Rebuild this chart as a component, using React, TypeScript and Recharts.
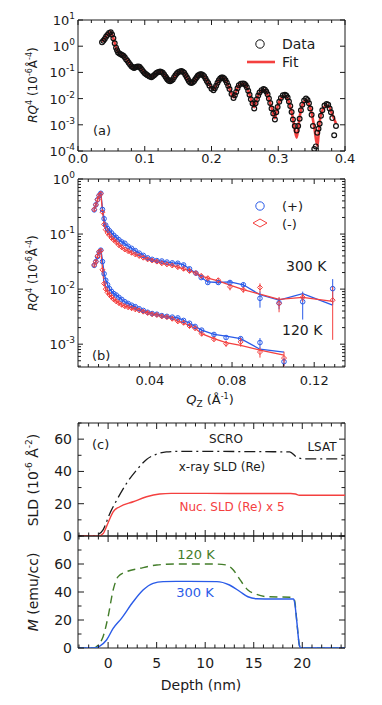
import React from "react";
import { ComposedChart, Line, Scatter, XAxis, YAxis, ErrorBar, ReferenceArea } from "recharts";

const W = 382;
const H = 705;
const FONT = "DejaVu Sans, Verdana, sans-serif";
const INK = "#1b1b1b";
const BLUE = "#2a5be8";
const RED = "#f4403f";
const GREEN = "#437d2a";

// (a) x-ray reflectivity: fit on one Q grid, data read at the same Q plus between them
const qA = [0.036, 0.040, 0.044, 0.049, 0.053, 0.057, 0.060, 0.064, 0.068, 0.072, 0.076, 0.080, 0.084, 0.088, 0.092, 0.096, 0.100, 0.104, 0.110, 0.114, 0.118, 0.123, 0.127, 0.131, 0.134, 0.138, 0.142, 0.146, 0.150, 0.155, 0.159, 0.163, 0.166, 0.170, 0.174, 0.178, 0.181, 0.185, 0.189, 0.193, 0.197, 0.203, 0.207, 0.211, 0.215, 0.219, 0.223, 0.227, 0.233, 0.237, 0.241, 0.247, 0.251, 0.255, 0.259, 0.264, 0.268, 0.272, 0.278, 0.282, 0.286, 0.290, 0.295, 0.299, 0.304, 0.310, 0.314, 0.318, 0.322, 0.3276, 0.332, 0.336, 0.3416, 0.346, 0.350, 0.354, 0.3585, 0.362, 0.366, 0.3725, 0.377, 0.381, 0.3865];
const fitA = [1.5, 2.0, 2.8, 3.5, 2.0, 0.89, 0.60, 0.50, 0.44, 0.33, 0.24, 0.174, 0.151, 0.166, 0.166, 0.126, 0.095, 0.079, 0.068, 0.079, 0.095, 0.107, 0.095, 0.071, 0.054, 0.048, 0.055, 0.076, 0.100, 0.110, 0.095, 0.066, 0.048, 0.041, 0.048, 0.066, 0.079, 0.083, 0.071, 0.048, 0.032, 0.023, 0.032, 0.050, 0.063, 0.058, 0.040, 0.024, 0.0112, 0.019, 0.032, 0.037, 0.032, 0.020, 0.010, 0.0047, 0.010, 0.0166, 0.022, 0.0178, 0.010, 0.0045, 0.00178, 0.0050, 0.010, 0.0126, 0.010, 0.0050, 0.00178, 0.00032, 0.0020, 0.0056, 0.0089, 0.0063, 0.0028, 0.00079, 0.00016, 0.00126, 0.0035, 0.0056, 0.0045, 0.0025, 0.00112];
const dataA = [1.4, 1.9, 2.7, 3.4, 2.0, 0.87, 0.58, 0.49, 0.43, 0.32, 0.235, 0.17, 0.148, 0.165, 0.164, 0.124, 0.093, 0.077, 0.066, 0.078, 0.096, 0.108, 0.096, 0.070, 0.053, 0.046, 0.054, 0.077, 0.101, 0.112, 0.096, 0.065, 0.047, 0.039, 0.047, 0.066, 0.080, 0.085, 0.072, 0.047, 0.031, 0.021, 0.031, 0.050, 0.064, 0.059, 0.040, 0.023, 0.0105, 0.018, 0.032, 0.038, 0.033, 0.020, 0.0095, 0.0042, 0.0095, 0.017, 0.023, 0.0185, 0.010, 0.0042, 0.0016, 0.0048, 0.0105, 0.014, 0.011, 0.0052, 0.0016, 0.0006, 0.0017, 0.0058, 0.010, 0.0066, 0.0024, 0.00012, 0.0005, 0.0011, 0.0036, 0.0062, 0.0042, 0.0018, 0.0009];
const qAmid = [0.038, 0.042, 0.0465, 0.051, 0.055, 0.0585, 0.062, 0.066, 0.070, 0.074, 0.078, 0.082, 0.086, 0.090, 0.094, 0.098, 0.102, 0.107, 0.112, 0.116, 0.1205, 0.125, 0.129, 0.1325, 0.136, 0.140, 0.144, 0.148, 0.1525, 0.157, 0.161, 0.1645, 0.168, 0.172, 0.176, 0.1795, 0.183, 0.187, 0.191, 0.195, 0.200, 0.205, 0.209, 0.213, 0.217, 0.221, 0.225, 0.230, 0.235, 0.239, 0.244, 0.249, 0.253, 0.257, 0.2615, 0.266, 0.270, 0.275, 0.280, 0.284, 0.288, 0.2925, 0.297, 0.3015, 0.307, 0.312, 0.316, 0.320, 0.3248, 0.3298, 0.334, 0.3388, 0.3438, 0.348, 0.352, 0.3563, 0.3603, 0.364, 0.3693, 0.3748, 0.379, 0.3838];
const dataAmid = [1.6, 2.3, 3.2, 2.8, 1.3, 0.70, 0.53, 0.46, 0.38, 0.28, 0.20, 0.156, 0.158, 0.168, 0.145, 0.107, 0.085, 0.069, 0.071, 0.087, 0.104, 0.104, 0.083, 0.061, 0.048, 0.049, 0.065, 0.090, 0.109, 0.106, 0.080, 0.056, 0.041, 0.042, 0.056, 0.074, 0.085, 0.080, 0.059, 0.039, 0.024, 0.025, 0.040, 0.059, 0.064, 0.050, 0.031, 0.015, 0.0135, 0.025, 0.037, 0.037, 0.027, 0.014, 0.0065, 0.0066, 0.013, 0.021, 0.022, 0.0145, 0.0068, 0.0027, 0.0030, 0.0075, 0.0135, 0.0130, 0.0078, 0.0031, 0.0009, 0.0009, 0.0036, 0.0085, 0.0088, 0.0042, 0.0009, 0.00015, 0.0007, 0.0022, 0.0054, 0.0058, 0.0030, 0.0004];

// (b) polarized neutron reflectivity, 300 K
const qHot = [0.0129, 0.0137, 0.0145, 0.0153, 0.0161, 0.0169, 0.0177, 0.0185, 0.0194, 0.0203, 0.0213, 0.0224, 0.0236, 0.0249, 0.0263, 0.0278, 0.0294, 0.0311, 0.0329, 0.0348, 0.0368, 0.0389, 0.0411, 0.0434, 0.0458, 0.0483, 0.0509, 0.0536, 0.0564, 0.0593, 0.0624, 0.0650, 0.0682, 0.0733, 0.0790, 0.0855, 0.0936, 0.1029, 0.1144, 0.1290];
const plusHot = [0.275, 0.34, 0.42, 0.50, 0.55, 0.28, 0.19, 0.145, 0.126, 0.115, 0.105, 0.095, 0.087, 0.079, 0.072, 0.068, 0.060, 0.055, 0.050, 0.045, 0.041, 0.037, 0.0347, 0.033, 0.0324, 0.031, 0.030, 0.0295, 0.0275, 0.0234, 0.0195, 0.0162, 0.0132, 0.0132, 0.0132, 0.0120, 0.0068, 0.0056, 0.0059, 0.0102];
const plusHotErr = [0.02, 0.025, 0.03, 0.035, 0.04, 0.02, 0.012, 0.009, 0.008, 0.007, 0.006, 0.0055, 0.005, 0.0045, 0.004, 0.004, 0.0035, 0.0032, 0.003, 0.0027, 0.0025, 0.0022, 0.0021, 0.002, 0.002, 0.0019, 0.0019, 0.0019, 0.0018, 0.0016, 0.0014, 0.0012, 0.001, 0.001, 0.0011, 0.0012, 0.0022, 0.0013, 0.0031, 0.005];
const plusHotFit = [0.275, 0.34, 0.42, 0.50, 0.56, 0.30, 0.19, 0.148, 0.127, 0.115, 0.105, 0.095, 0.087, 0.079, 0.073, 0.067, 0.060, 0.055, 0.050, 0.045, 0.041, 0.037, 0.0347, 0.033, 0.0324, 0.031, 0.030, 0.0295, 0.0275, 0.0234, 0.0195, 0.0162, 0.0135, 0.0132, 0.0135, 0.0120, 0.0079, 0.0063, 0.0083, 0.0051];
const minusHot = [0.28, 0.34, 0.42, 0.50, 0.54, 0.25, 0.15, 0.12, 0.105, 0.095, 0.085, 0.078, 0.071, 0.063, 0.0575, 0.0525, 0.049, 0.0457, 0.0427, 0.040, 0.0372, 0.0347, 0.0331, 0.0316, 0.0295, 0.0282, 0.0269, 0.0251, 0.0234, 0.0214, 0.0195, 0.0174, 0.0158, 0.0145, 0.0110, 0.0098, 0.0107, 0.0055, 0.0071, 0.0063];
const minusHotErr = [0.03, 0.035, 0.04, 0.045, 0.05, 0.025, 0.014, 0.011, 0.0095, 0.0085, 0.0075, 0.007, 0.0063, 0.0056, 0.005, 0.0046, 0.0043, 0.004, 0.0037, 0.0035, 0.0032, 0.003, 0.0029, 0.0028, 0.0026, 0.0025, 0.0024, 0.0022, 0.0021, 0.0019, 0.0018, 0.0016, 0.0015, 0.0014, 0.0015, 0.0012, 0.002, 0.0017, 0.0012, 0.0051];
const minusHotFit = [0.28, 0.34, 0.42, 0.50, 0.55, 0.26, 0.155, 0.12, 0.105, 0.095, 0.085, 0.078, 0.071, 0.063, 0.0575, 0.0525, 0.049, 0.0457, 0.0427, 0.040, 0.0372, 0.0347, 0.0331, 0.0316, 0.0295, 0.0282, 0.0269, 0.0251, 0.0234, 0.0214, 0.0195, 0.0174, 0.0158, 0.0141, 0.0118, 0.0098, 0.0081, 0.0065, 0.0071, 0.0060];

// (b) 120 K
const qCold = [0.0129, 0.0137, 0.0145, 0.0153, 0.0161, 0.0169, 0.0177, 0.0185, 0.0194, 0.0203, 0.0213, 0.0224, 0.0236, 0.0249, 0.0263, 0.0278, 0.0294, 0.0311, 0.0329, 0.0348, 0.0368, 0.0389, 0.0411, 0.0434, 0.0458, 0.0483, 0.0509, 0.0536, 0.0564, 0.0593, 0.0620, 0.0652, 0.0712, 0.0771, 0.0842, 0.0936, 0.1053];
const plusCold = [0.027, 0.0316, 0.039, 0.047, 0.051, 0.0316, 0.019, 0.0145, 0.012, 0.0102, 0.0091, 0.0083, 0.0078, 0.0071, 0.0065, 0.0059, 0.0055, 0.0051, 0.0048, 0.0044, 0.0041, 0.0038, 0.0036, 0.0035, 0.0033, 0.0032, 0.0031, 0.0030, 0.0027, 0.0024, 0.0021, 0.0018, 0.0015, 0.00132, 0.00126, 0.00107, 0.00048];
const plusColdErr = [0.002, 0.0023, 0.0028, 0.0033, 0.0035, 0.0022, 0.0013, 0.001, 0.0008, 0.0007, 0.0006, 0.00055, 0.0005, 0.00045, 0.0004, 0.00037, 0.00034, 0.00032, 0.0003, 0.00028, 0.00026, 0.00024, 0.00023, 0.00022, 0.00021, 0.0002, 0.0002, 0.00019, 0.00018, 0.00016, 0.00014, 0.00012, 0.0001, 0.0001, 0.00011, 0.00022, 0.00008];
const plusColdFit = [0.027, 0.0316, 0.039, 0.047, 0.052, 0.034, 0.0195, 0.0148, 0.0121, 0.0102, 0.0091, 0.0083, 0.0078, 0.0071, 0.0065, 0.0059, 0.0055, 0.0051, 0.0048, 0.0044, 0.0041, 0.0038, 0.0036, 0.0035, 0.0033, 0.0032, 0.0031, 0.0030, 0.0027, 0.0024, 0.0021, 0.0018, 0.0015, 0.0014, 0.00126, 0.00081, 0.00072];
const minusCold = [0.0275, 0.0316, 0.040, 0.048, 0.050, 0.0224, 0.0126, 0.0100, 0.0087, 0.0079, 0.0072, 0.0065, 0.0060, 0.0056, 0.0052, 0.0049, 0.0047, 0.0045, 0.0043, 0.0041, 0.0039, 0.0037, 0.0035, 0.0034, 0.0032, 0.0031, 0.0029, 0.0026, 0.00245, 0.00214, 0.00195, 0.00155, 0.00123, 0.00102, 0.0011, 0.00072, 0.00056];
const minusColdErr = [0.003, 0.0033, 0.004, 0.0048, 0.005, 0.0024, 0.0013, 0.001, 0.0009, 0.0008, 0.0007, 0.00065, 0.0006, 0.00055, 0.0005, 0.00048, 0.00046, 0.00044, 0.00042, 0.0004, 0.00038, 0.00036, 0.00034, 0.00033, 0.00031, 0.0003, 0.00028, 0.00025, 0.00024, 0.00021, 0.00019, 0.00016, 0.00012, 0.00012, 0.0002, 0.00015, 0.00017];
const minusColdFit = [0.0275, 0.0316, 0.040, 0.048, 0.051, 0.024, 0.0128, 0.0100, 0.0087, 0.0079, 0.0072, 0.0065, 0.0060, 0.0056, 0.0052, 0.0049, 0.0047, 0.0045, 0.0043, 0.0041, 0.0039, 0.0037, 0.0035, 0.0034, 0.0032, 0.0031, 0.0029, 0.0026, 0.00245, 0.00214, 0.00195, 0.00155, 0.00126, 0.00107, 0.00095, 0.00078, 0.00063];

// (c) SLD depth profiles
const depthXray = [-3.1, -1.5, -1.2, -0.5, 0.18, 0.87, 1.9, 2.93, 3.96, 5.0, 6.0, 7.0, 10.0, 14.0, 17.0, 18.7, 19.4, 20.1, 22.0, 24.4];
const sldXray = [0, 0, 0.5, 4, 14, 22, 32.6, 40.8, 47.4, 50.7, 52.1, 52.4, 52.4, 52.3, 52.2, 52.1, 49, 47.8, 47.8, 47.8];
const depthNuc = [-3.1, -1.5, -1.0, -0.5, -0.17, 0.2, 0.52, 1.2, 2.58, 3.96, 5.3, 6.5, 10.0, 15.0, 18.8, 19.3, 19.7, 22.0, 24.4];
const sldNuc = [0, 0, 0, 1.5, 5.8, 11, 15, 18.1, 21.2, 24.3, 26, 26.4, 26.4, 26.3, 26.3, 26, 25.2, 25.2, 25.2];

// (d) magnetization depth profiles
const depth120 = [-3.1, -1.5, -1.03, -0.52, 0, 0.52, 1.03, 1.9, 3.27, 5.0, 7.05, 10.8, 12.2, 12.9, 13.6, 14.4, 15.3, 16.3, 18.9, 19.2, 19.45, 19.7, 19.85, 24.4];
const mag120 = [0, 0, 2.1, 8, 22.4, 41.4, 51, 54.5, 56.9, 59.3, 60, 60, 59.3, 55.7, 48.6, 41.4, 38.3, 36.7, 36.2, 34, 18, 2, 0, 0];
const depth300 = [-3.1, -1.5, -0.86, -0.16, 0.52, 1.38, 2.58, 3.6, 4.64, 5.67, 7.0, 11.2, 12.5, 13.6, 14.4, 15.3, 17.0, 19.1, 19.2, 19.45, 19.7, 19.85, 24.4];
const mag300 = [0, 0, 1.4, 5.7, 14, 21.2, 33, 41.4, 46.2, 47.4, 47.6, 47.4, 45, 40.2, 36.6, 35.2, 35, 35, 33, 18, 2, 0, 0];

type Box = { L: number; R: number; T: number; B: number };
const boxA: Box = { L: 78, R: 345, T: 20, B: 151 };
const boxB: Box = { L: 78, R: 345, T: 179, B: 367 };
const boxC: Box = { L: 78, R: 345, T: 423, B: 536 };
const boxD: Box = { L: 78, R: 345, T: 536, B: 648 };

const marginOf = (b: Box) => ({ top: b.T, bottom: H - b.B - 20, left: b.L - 30, right: W - b.R });
const rows = (xs: number[], ys: number[], es?: number[]) => xs.map((q, i) => ({ q, v: ys[i], e: es ? es[i] : 0 }));
const isIn = (v: number, list: number[]) => list.some((l) => Math.abs(l - v) < 1e-7);
const isDecade = (v: number) => Math.abs(Math.log10(v) - Math.round(Math.log10(v))) < 1e-6;

const xdA = [0, 0.4];
const ydA = [1e-4, 10];
const xdB = [0.005, 0.135];
const ydB = [3.85e-4, 1];
const xdD = [-3.1, 24.4];
const ydC = [0, 70];
const ydD = [0, 80];

const ticksXA = Array.from({ length: 21 }, (_, k) => +(k * 0.02).toFixed(3));
const majorsXA = [0, 0.1, 0.2, 0.3, 0.4];
const ticksYA = [1e-4, 1e-3, 1e-2, 1e-1, 1, 10];
const ticksXB = Array.from({ length: 25 }, (_, k) => +((k + 2) * 0.005).toFixed(3));
const majorsXB = [0.04, 0.08, 0.12];
const ticksYB: number[] = [];
[-4, -3, -2, -1].forEach((e) => {
  for (let m = 1; m <= 9; m++) {
    const t = +(m * Math.pow(10, e)).toPrecision(3);
    if (t >= ydB[0]) ticksYB.push(t);
  }
});
ticksYB.push(1);
const ticksXD = Array.from({ length: 28 }, (_, k) => k - 3);
const majorsXD = [0, 5, 10, 15, 20];
const ticksYC = [0, 10, 20, 30, 40, 50, 60, 70];
const ticksYD = [0, 10, 20, 30, 40, 50, 60, 70, 80];
const majorsY = [0, 20, 40, 60];

function xTicker(box: Box, majors: number[], label: ((v: number) => string) | null, dy: number, big: number, small: number, size: number) {
  return (props: any) => {
    const x = props.x;
    const v = props.payload.value;
    const major = isIn(v, majors);
    const len = major ? big : small;
    return (
      <g>
        <line x1={x} x2={x} y1={box.B} y2={box.B - len} stroke={INK} />
        <line x1={x} x2={x} y1={box.T} y2={box.T + len} stroke={INK} />
        {major && label ? (
          <text x={x} y={box.B + dy} textAnchor="middle" fontFamily={FONT} fontSize={size} fill={INK}>{label(v)}</text>
        ) : null}
      </g>
    );
  };
}

function yTickerLin(box: Box, majors: number[], big: number, small: number, size: number) {
  return (props: any) => {
    const y = props.y;
    const v = props.payload.value;
    const major = isIn(v, majors);
    const len = major ? big : small;
    return (
      <g>
        <line x1={box.L} x2={box.L + len} y1={y} y2={y} stroke={INK} />
        <line x1={box.R} x2={box.R - len} y1={y} y2={y} stroke={INK} />
        {major ? (
          <text x={box.L - 6} y={y + 5} textAnchor="end" fontFamily={FONT} fontSize={size} fill={INK}>{v}</text>
        ) : null}
      </g>
    );
  };
}

function yTickerLog(box: Box, big: number, small: number, size: number) {
  return (props: any) => {
    const y = props.y;
    const v = props.payload.value;
    const major = isDecade(v);
    const len = major ? big : small;
    return (
      <g>
        <line x1={box.L} x2={box.L + len} y1={y} y2={y} stroke={INK} />
        <line x1={box.R} x2={box.R - len} y1={y} y2={y} stroke={INK} />
        {major ? (
          <text x={box.L - 3} y={y + 5} textAnchor="end" fontFamily={FONT} fontSize={size} fill={INK}>
            10<tspan dy={-6} fontSize={size - 4}>{Math.round(Math.log10(v))}</tspan>
          </text>
        ) : null}
      </g>
    );
  };
}

const ring = (color: string, r: number, sw: number) => (p: any) => (
  <circle cx={p.cx} cy={p.cy} r={r} fill="none" stroke={color} strokeWidth={sw} />
);
const diamond = (color: string, s: number) => (p: any) => (
  <path d={`M${p.cx} ${p.cy - s}L${p.cx + s} ${p.cy}L${p.cx} ${p.cy + s}L${p.cx - s} ${p.cy}Z`} fill="none" stroke={color} strokeWidth={1} />
);

const layer: React.CSSProperties = { position: "absolute", left: 0, top: 0 };

function PanelA() {
  return (
    <div style={layer}>
      <ComposedChart width={W} height={H} margin={marginOf(boxA)}>
        <XAxis type="number" dataKey="q" domain={xdA} allowDataOverflow ticks={ticksXA} interval={0} height={20}
          tickLine={false} axisLine={false} tick={xTicker(boxA, majorsXA, (v) => v.toFixed(1), 12, 5, 3, 13)} />
        <YAxis type="number" scale="log" domain={ydA} allowDataOverflow ticks={ticksYA} interval={0} width={30}
          tickLine={false} axisLine={false} tick={yTickerLog(boxA, 5, 3, 13)} />
        <Scatter data={rows(qA, dataA)} dataKey="v" shape={ring("#111", 2.4, 1.2)} isAnimationActive={false} />
        <Scatter data={rows(qAmid, dataAmid)} dataKey="v" shape={ring("#111", 2.4, 1.2)} isAnimationActive={false} />
        <Line data={rows(qA, fitA)} dataKey="v" type="monotone" stroke={RED} strokeWidth={2.6} dot={false} isAnimationActive={false} />
        <ReferenceArea x1={xdA[0]} x2={xdA[1]} y1={ydA[0]} y2={ydA[1]} fill="none" stroke={INK} strokeWidth={1} ifOverflow="visible" />
      </ComposedChart>
    </div>
  );
}

function PanelB() {
  return (
    <div style={layer}>
      <ComposedChart width={W} height={H} margin={marginOf(boxB)}>
        <XAxis type="number" dataKey="q" domain={xdB} allowDataOverflow ticks={ticksXB} interval={0} height={20}
          tickLine={false} axisLine={false} tick={xTicker(boxB, majorsXB, (v) => v.toFixed(2), 18, 5, 3, 13)} />
        <YAxis type="number" scale="log" domain={ydB} allowDataOverflow ticks={ticksYB} interval={0} width={30}
          tickLine={false} axisLine={false} tick={yTickerLog(boxB, 5, 3, 13)} />
        <Line data={rows(qHot, plusHotFit)} dataKey="v" type="linear" stroke={BLUE} strokeWidth={1.3} dot={false} isAnimationActive={false} />
        <Line data={rows(qHot, minusHotFit)} dataKey="v" type="linear" stroke={RED} strokeWidth={1.3} dot={false} isAnimationActive={false} />
        <Line data={rows(qCold, plusColdFit)} dataKey="v" type="linear" stroke={BLUE} strokeWidth={1.3} dot={false} isAnimationActive={false} />
        <Line data={rows(qCold, minusColdFit)} dataKey="v" type="linear" stroke={RED} strokeWidth={1.3} dot={false} isAnimationActive={false} />
        <Scatter data={rows(qHot, plusHot, plusHotErr)} dataKey="v" shape={ring(BLUE, 2.3, 1)} isAnimationActive={false}>
          <ErrorBar dataKey="e" direction="y" width={0} stroke={BLUE} strokeWidth={1} />
        </Scatter>
        <Scatter data={rows(qCold, plusCold, plusColdErr)} dataKey="v" shape={ring(BLUE, 2.3, 1)} isAnimationActive={false}>
          <ErrorBar dataKey="e" direction="y" width={0} stroke={BLUE} strokeWidth={1} />
        </Scatter>
        <Scatter data={rows(qHot, minusHot, minusHotErr)} dataKey="v" shape={diamond(RED, 2.5)} isAnimationActive={false}>
          <ErrorBar dataKey="e" direction="y" width={0} stroke={RED} strokeWidth={1} />
        </Scatter>
        <Scatter data={rows(qCold, minusCold, minusColdErr)} dataKey="v" shape={diamond(RED, 2.5)} isAnimationActive={false}>
          <ErrorBar dataKey="e" direction="y" width={0} stroke={RED} strokeWidth={1} />
        </Scatter>
        <ReferenceArea x1={xdB[0]} x2={xdB[1]} y1={ydB[0]} y2={ydB[1]} fill="none" stroke={INK} strokeWidth={1} ifOverflow="visible" />
      </ComposedChart>
    </div>
  );
}

function PanelC() {
  return (
    <div style={layer}>
      <ComposedChart width={W} height={H} margin={marginOf(boxC)}>
        <XAxis type="number" dataKey="q" domain={xdD} allowDataOverflow ticks={ticksXD} interval={0} height={20}
          tickLine={false} axisLine={false} tick={xTicker(boxC, majorsXD, null, 0, 6, 3.5, 14)} />
        <YAxis type="number" domain={ydC} allowDataOverflow ticks={ticksYC} interval={0} width={30}
          tickLine={false} axisLine={false} tick={yTickerLin(boxC, majorsY, 6, 3.5, 14)} />
        <Line data={rows(depthXray, sldXray)} dataKey="v" type="monotone" stroke={INK} strokeWidth={1.3} strokeDasharray="11 4 2 4" dot={false} isAnimationActive={false} />
        <Line data={rows(depthNuc, sldNuc)} dataKey="v" type="monotone" stroke={RED} strokeWidth={1.4} dot={false} isAnimationActive={false} />
        <ReferenceArea x1={xdD[0]} x2={xdD[1]} y1={ydC[0]} y2={ydC[1]} fill="none" stroke={INK} strokeWidth={1} ifOverflow="visible" />
      </ComposedChart>
    </div>
  );
}

function PanelD() {
  return (
    <div style={layer}>
      <ComposedChart width={W} height={H} margin={marginOf(boxD)}>
        <XAxis type="number" dataKey="q" domain={xdD} allowDataOverflow ticks={ticksXD} interval={0} height={20}
          tickLine={false} axisLine={false} tick={xTicker(boxD, majorsXD, (v) => String(v), 20, 6, 3.5, 14)} />
        <YAxis type="number" domain={ydD} allowDataOverflow ticks={ticksYD} interval={0} width={30}
          tickLine={false} axisLine={false} tick={yTickerLin(boxD, majorsY, 6, 3.5, 14)} />
        <Line data={rows(depth120, mag120)} dataKey="v" type="monotone" stroke={GREEN} strokeWidth={1.4} strokeDasharray="8 5" dot={false} isAnimationActive={false} />
        <Line data={rows(depth300, mag300)} dataKey="v" type="monotone" stroke={BLUE} strokeWidth={1.4} dot={false} isAnimationActive={false} />
        <ReferenceArea x1={xdD[0]} x2={xdD[1]} y1={ydD[0]} y2={ydD[1]} fill="none" stroke={INK} strokeWidth={1} ifOverflow="visible" />
      </ComposedChart>
    </div>
  );
}

function Labels() {
  const t = { fontFamily: FONT, fill: INK };
  return (
    <svg width={W} height={H} style={{ ...layer, pointerEvents: "none" }}>
      {/* (a) */}
      <text transform="translate(37,85) rotate(-90)" textAnchor="middle" fontSize={12} {...t}>
        <tspan fontStyle="italic">RQ</tspan><tspan dy={-5} fontSize={8}>4</tspan><tspan dy={5}> (10</tspan><tspan dy={-5} fontSize={8}>-6</tspan><tspan dy={5}>Å</tspan><tspan dy={-5} fontSize={8}>-4</tspan><tspan dy={5}>)</tspan>
      </text>
      <circle cx={260} cy={44} r={4.2} fill="none" stroke="#111" strokeWidth={1} />
      <text x={282} y={49} fontSize={14} {...t}>Data</text>
      <line x1={247} x2={275} y1={62} y2={62} stroke={RED} strokeWidth={2.6} />
      <text x={282} y={67} fontSize={14} {...t}>Fit</text>
      <text x={93} y={135} fontSize={13} {...t}>(a)</text>

      {/* (b) */}
      <text transform="translate(37,273) rotate(-90)" textAnchor="middle" fontSize={12} {...t}>
        <tspan fontStyle="italic">RQ</tspan><tspan dy={-5} fontSize={8}>4</tspan><tspan dy={5}> (10</tspan><tspan dy={-5} fontSize={8}>-6</tspan><tspan dy={5}>Å</tspan><tspan dy={-5} fontSize={8}>-4</tspan><tspan dy={5}>)</tspan>
      </text>
      <circle cx={260} cy={206} r={4.2} fill="none" stroke={BLUE} strokeWidth={1} />
      <text x={282} y={211} fontSize={13} {...t}>(+)</text>
      <path d="M253 223L260 219L267 223L260 227Z" fill="none" stroke={RED} strokeWidth={1} />
      <text x={282} y={229} fontSize={13} {...t}>(-)</text>
      <text x={286} y={271} fontSize={14} {...t}>300 K</text>
      <text x={282} y={335} fontSize={14} {...t}>120 K</text>
      <text x={92} y={360} fontSize={13} {...t}>(b)</text>
      <text x={210} y={404} textAnchor="middle" fontSize={13} {...t}>
        <tspan fontStyle="italic">Q</tspan><tspan dy={3} fontSize={9}>Z</tspan><tspan dy={-3}> (Å</tspan><tspan dy={-5} fontSize={8}>-1</tspan><tspan dy={5}>)</tspan>
      </text>

      {/* (c) */}
      <text transform="translate(38,480) rotate(-90)" textAnchor="middle" fontSize={14} {...t}>
        SLD (10<tspan dy={-6} fontSize={9}>-6</tspan><tspan dy={6}> Å</tspan><tspan dy={-6} fontSize={9}>-2</tspan><tspan dy={6}>)</tspan>
      </text>
      <text x={92} y={449} fontSize={13} {...t}>(c)</text>
      <text x={226} y={443} textAnchor="middle" fontSize={12} {...t}>SCRO</text>
      <text x={322} y={451} textAnchor="middle" fontSize={12} {...t}>LSAT</text>
      <text x={222} y={471} textAnchor="middle" fontSize={12} {...t}>x-ray SLD (Re)</text>
      <text x={232} y={511} textAnchor="middle" fontSize={12} fontFamily={FONT} fill={RED}>Nuc. SLD (Re) x 5</text>

      {/* (d) */}
      <text transform="translate(38,592) rotate(-90)" textAnchor="middle" fontSize={14} {...t}>
        <tspan fontStyle="italic">M</tspan> (emu/cc)
      </text>
      <text x={196} y={559} textAnchor="middle" fontSize={13} fontFamily={FONT} fill={GREEN}>120 K</text>
      <text x={195} y={597} textAnchor="middle" fontSize={13} fontFamily={FONT} fill={BLUE}>300 K</text>
      <text x={201} y={690} textAnchor="middle" fontSize={14} {...t}>Depth (nm)</text>
    </svg>
  );
}

export default function App() {
  return (
    <div style={{ position: "absolute", left: 0, top: 0, width: W, height: H, background: "#fff", fontFamily: FONT }}>
      <PanelA />
      <PanelB />
      <PanelC />
      <PanelD />
      <Labels />
    </div>
  );
}
